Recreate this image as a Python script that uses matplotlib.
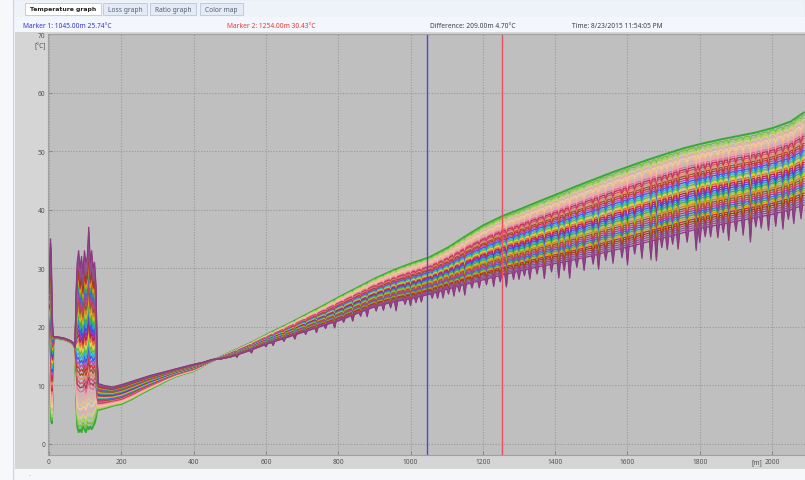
import matplotlib
matplotlib.use("Agg")
import matplotlib.pyplot as plt
import numpy as np
from matplotlib.patches import Rectangle

# distance along the fibre (m) and the two outermost temperature traces (degC)
dist_m = [0, 2, 4, 6, 8, 10, 12, 14, 16, 30, 45, 60, 68, 72,
          75, 78, 82, 86, 90, 94, 98, 102, 106, 110, 114, 118, 122, 126, 130, 133, 136,
          150, 175, 200, 225, 250, 275, 300, 325, 350, 375, 400, 425, 450, 475,
          500, 550, 600, 650, 700, 750, 800, 850, 900, 950, 1000, 1050, 1100, 1150,
          1200, 1250, 1300, 1350, 1400, 1450, 1500, 1550, 1600, 1650, 1700, 1750,
          1800, 1850, 1900, 1950, 2000, 2050, 2088]
green_trace_c = [19.5, 16.0, 9.0, 4.0, 3.5, 8.0, 16.0, 18.0, 18.0, 17.9, 17.7, 17.3, 16.9, 16.3,
                 8.0, 3.0, 2.0, 2.5, 2.0, 3.0, 2.5, 2.0, 3.0, 2.5, 3.0, 2.5, 3.0, 3.5, 4.5, 5.8, 5.8,
                 6.0, 6.5, 6.8, 7.5, 8.4, 9.2, 10.0, 10.8, 11.5, 12.0, 12.4, 13.3, 14.1, 14.9,
                 15.6, 17.0, 18.6, 20.1, 21.7, 23.3, 25.0, 26.6, 28.2, 29.6, 30.8, 31.8, 33.4, 35.4,
                 37.3, 38.8, 40.0, 41.3, 42.5, 43.8, 45.0, 46.2, 47.3, 48.4, 49.4, 50.4,
                 51.2, 51.9, 52.5, 53.1, 53.9, 55.0, 56.6]
purple_trace_c = [26.5, 30.0, 35.0, 33.0, 25.0, 20.0, 18.5, 18.2, 18.3, 18.2, 18.0, 17.6, 17.2, 16.5,
                  26.0, 31.0, 33.0, 30.0, 32.0, 29.0, 33.0, 31.0, 32.0, 37.0, 31.0, 33.0, 30.0, 31.0, 27.0, 15.0, 10.3,
                  10.0, 9.7, 10.1, 10.6, 11.1, 11.6, 12.0, 12.4, 12.8, 13.2, 13.6, 13.9, 14.4, 14.5,
                  14.8, 15.8, 17.0, 18.0, 19.0, 20.0, 21.0, 22.2, 23.4, 24.2, 24.8, 25.5, 26.4, 27.2,
                  28.0, 28.8, 29.5, 30.2, 30.8, 31.4, 32.1, 32.9, 33.6, 34.4, 35.2, 36.0,
                  36.8, 37.4, 38.0, 38.6, 39.2, 40.0, 40.8]

# narrow cold spikes on the lower traces
dip_dist_m = [520, 560, 600, 620, 650, 680, 710, 740, 765, 790,
              815, 840, 862, 880, 905, 925, 945, 960, 985, 1000,
              1015, 1030, 1060, 1075, 1090, 1105, 1120, 1135, 1150, 1170,
              1190, 1210, 1230, 1248, 1265, 1285, 1300, 1315, 1330, 1350,
              1370, 1390, 1410, 1425, 1440, 1460, 1480, 1505, 1520, 1540,
              1560, 1585, 1600, 1620, 1640, 1665, 1680, 1695, 1710, 1725,
              1740, 1765, 1790, 1800, 1815, 1830, 1850, 1865, 1880, 1900,
              1920, 1940, 1955, 1970, 1990, 2010, 2030, 2045, 2060, 2080]
dip_depth_c = [0.4, 0.5, 0.4, 0.6, 0.5, 0.7, 0.5, 0.8, 0.6, 1.0,
               0.6, 1.0, 0.7, 1.2, 0.8, 1.0, 0.9, 1.6, 0.8, 1.2,
               0.9, 1.0, 0.8, 1.1, 1.3, 0.9, 1.5, 1.0, 1.8, 0.9,
               1.2, 1.0, 1.6, 1.1, 2.2, 1.2, 1.4, 1.0, 1.8, 1.2,
               2.2, 1.3, 2.6, 1.5, 3.0, 1.4, 2.2, 1.5, 2.6, 1.4,
               2.2, 1.6, 3.0, 1.5, 2.6, 3.2, 3.6, 1.6, 2.2, 1.5,
               2.6, 1.8, 3.6, 2.4, 1.6, 1.8, 2.2, 1.5, 3.0, 1.7,
               2.6, 4.0, 1.6, 2.0, 2.6, 2.2, 3.0, 1.6, 2.6, 2.2]

marker_dist_m = [1045.0, 1254.0]
marker_temp_c = [25.74, 30.43]
marker_diff_c = 4.70
timestamp = "8/23/2015 11:54:05 PM"

x_ticks = [0, 200, 400, 600, 800, 1000, 1200, 1400, 1600, 1800, 2000]
y_ticks = [0, 10, 20, 30, 40, 50, 60, 70]
tab_labels = ["Temperature graph", "Loss graph", "Ratio graph", "Color map"]

# bottom (purple) -> top (green) trace colours
trace_colors = [
    "#8a3a7e", "#9a4a9a", "#7a5a8a", "#b04080", "#8b4513", "#c03030", "#d9a000", "#50a050",
    "#3070d0", "#a040a0", "#d04060", "#8b5a2b", "#e08020", "#c0c020", "#40b040", "#20a0c0",
    "#4050e0", "#9030b0", "#c02040", "#e07030", "#e0d040", "#60c040", "#30b0d0", "#3060e0",
    "#b050c0", "#d03040", "#a05030", "#e09060", "#d05070", "#c03050", "#e07090", "#f0a0b0",
    "#e8b0a0", "#f0c090", "#f0d0a0", "#e8a8b8", "#d8d080", "#a0d060", "#70c040", "#38a838",
]

W, H = 805, 481
plt.rcParams["font.family"] = ["Noto Sans", "DejaVu Sans"]
fig = plt.figure(figsize=(W / 100, H / 100), dpi=100, facecolor="#f7f8fb")


def box(x, y, w, h, **kw):
    fig.add_artist(Rectangle((x / W, 1 - (y + h) / H), w / W, h / H,
                             transform=fig.transFigure, zorder=-5, **kw))


def label(x, y, s, **kw):
    kw.setdefault("fontsize", 4.8)
    kw.setdefault("va", "center")
    fig.text(x / W, 1 - y / H, s, **kw)


# window frame
box(13, 0, 792, 481, facecolor="#eef2f9", edgecolor="#c9d5ea", lw=0.8)
box(15, 18, 790, 15, facecolor="#f3f6fc", edgecolor="none")
box(15, 33, 790, 437, facecolor="#d5d5d5", edgecolor="none")
box(15, 470, 790, 11, facecolor="#f5f7fa", edgecolor="none")
label(28, 476, "\u00b7", color="#999999", fontsize=5)

tab_x = [25, 103, 150, 200]
tab_w = [76, 44, 46, 43]
for i, (tx, tw, name) in enumerate(zip(tab_x, tab_w, tab_labels)):
    active = i == 0
    box(tx, 4, tw, 12, facecolor="#ffffff" if active else "#e4ebf6",
        edgecolor="#b9c6dc", lw=0.6)
    if active:
        label(tx + tw / 2, 10, name, ha="center", color="#222222",
              family="DejaVu Sans", fontweight="bold", fontsize=4.4)
    else:
        label(tx + tw / 2, 10, name, ha="center", color="#556070")

label(23, 26, f"Marker 1: {marker_dist_m[0]:.2f}m {marker_temp_c[0]:.2f}\u00b0C", color="#3434d8")
label(227, 26, f"Marker 2: {marker_dist_m[1]:.2f}m {marker_temp_c[1]:.2f}\u00b0C", color="#e03a3a")
label(430, 26, f"Difference: {marker_dist_m[1] - marker_dist_m[0]:.2f}m {marker_diff_c:.2f}\u00b0C",
      color="#404040")
label(572, 26, f"Time: {timestamp}", color="#404040")

ax = fig.add_axes([48 / W, 1 - 456 / H, 757 / W, 421 / H])
ax.set_facecolor("#bfbfbf")

x = np.arange(dist_m[0], dist_m[-1] + 1, 1.0)
top = np.interp(x, dist_m, green_trace_c)
bottom = np.interp(x, dist_m, purple_trace_c)
dip = np.zeros_like(x)
for d, depth in zip(dip_dist_m, dip_depth_c):
    dip += depth * np.clip(1 - np.abs(x - d) / 4.0, 0, None)

weights = np.linspace(0, 1, len(trace_colors))
for w, c in reversed(list(zip(weights, trace_colors))):
    y = bottom + w * (top - bottom) - dip * (1 - w) ** 0.5
    ax.plot(x, y, color=c, lw=1.4 if w == 1 else 0.9, solid_joinstyle="round")

ax.axvline(marker_dist_m[0], color="#4a4ad0", lw=1.0)
ax.axvline(marker_dist_m[1], color="#e85060", lw=1.0)

ax.set_xlim(-2.8, 2091)
ax.set_ylim(-1.9, 69.8)
ax.set_xticks(x_ticks)
ax.set_yticks(y_ticks)
ax.grid(color="#9a9a9a", linestyle=(0, (1, 1.5)), linewidth=0.8)
ax.tick_params(direction="in", length=3, width=0.6, color="#808080",
               labelsize=4.8, labelcolor="#555555", pad=2)
for s in ax.spines.values():
    s.set_color("#a0a0a0")
    s.set_linewidth(0.8)

label(40, 47, "[\u00b0C]", ha="center", color="#555555")
label(757, 463, "[m]", ha="center", color="#555555")

fig.savefig("out.png", dpi=100, facecolor=fig.get_facecolor())
